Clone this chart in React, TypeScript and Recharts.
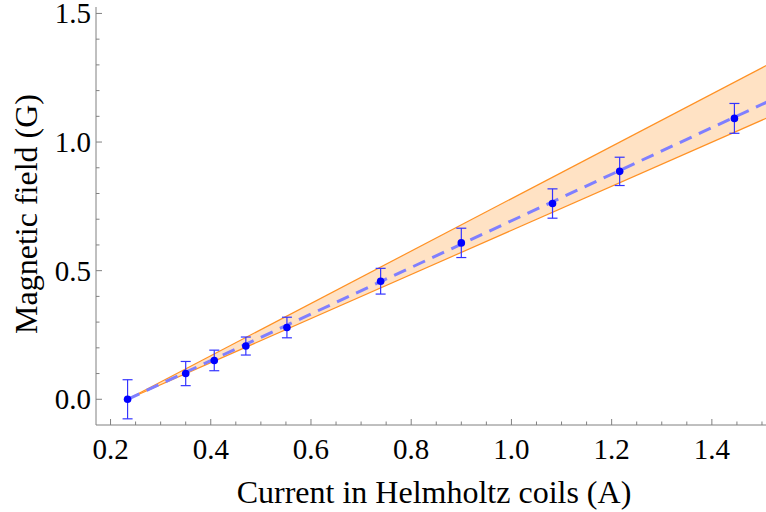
import React from "react";
import { ComposedChart, Area, Line, Scatter, ErrorBar, XAxis, YAxis } from "recharts";

// measured points: current (A), field (G), error (G)
const currents = [0.234, 0.35, 0.407, 0.47, 0.552, 0.739, 0.9, 1.082, 1.216, 1.445];
const fields = [0.0, 0.1, 0.151, 0.207, 0.279, 0.459, 0.608, 0.761, 0.886, 1.092];
const fieldErr = [0.076, 0.047, 0.04, 0.035, 0.04, 0.05, 0.057, 0.057, 0.055, 0.058];

// fit line and confidence band, read at both ends
const fitX = [0.234, 1.516];
const fitY = [0.0, 1.161];
const bandLow = [0.0, 1.099];
const bandHigh = [0.0, 1.305];

const X_MAJOR = [0.2, 0.4, 0.6, 0.8, 1.0, 1.2, 1.4];
const X_TICKS = [0.2, 0.25, 0.3, 0.35, 0.4, 0.45, 0.5, 0.55, 0.6, 0.65, 0.7, 0.75, 0.8, 0.85, 0.9, 0.95, 1.0, 1.05, 1.1, 1.15, 1.2, 1.25, 1.3, 1.35, 1.4, 1.45, 1.5];
const Y_MAJOR = [0.0, 0.5, 1.0, 1.5];
const Y_TICKS = [0.0, 0.1, 0.2, 0.3, 0.4, 0.5, 0.6, 0.7, 0.8, 0.9, 1.0, 1.1, 1.2, 1.3, 1.4, 1.5];

const X_DOMAIN = [0.171, 1.516];
const Y_DOMAIN = [-0.1, 1.525];

const FONT = "'Liberation Serif', 'Times New Roman', serif";
const FRAME = "#808080";

const points = currents.map((x, i) => ({ x, y: fields[i], err: fieldErr[i] }));
const fit = fitX.map((x, i) => ({ x, y: fitY[i] }));
const band = fitX.map((x, i) => ({ x, range: [bandLow[i], bandHigh[i]], lo: bandLow[i], hi: bandHigh[i] }));

const isMajor = (list: number[], v: number) => list.some((m) => Math.abs(m - v) < 1e-6);

function XTick(props: any) {
  const { x, y, payload, top } = props;
  const major = isMajor(X_MAJOR, payload.value);
  const len = major ? 6 : 3.5;
  const col = top ? "#333" : FRAME;
  return (
    <g>
      <line x1={x} x2={x} y1={y} y2={top ? y + len : y - len} stroke={col} strokeWidth={1} />
      {!top && major && (
        <text x={x} y={y + 34} textAnchor="middle" fontFamily={FONT} fontSize={29} fill="#000">
          {payload.value.toFixed(1)}
        </text>
      )}
    </g>
  );
}

function YTick(props: any) {
  const { x, y, payload } = props;
  const major = isMajor(Y_MAJOR, payload.value);
  const len = major ? 6 : 3.5;
  return (
    <g>
      <line x1={x} x2={x + len} y1={y} y2={y} stroke={FRAME} strokeWidth={1} />
      {major && (
        <text x={x - 5} y={y} dy="0.34em" textAnchor="end" fontFamily={FONT} fontSize={29} fill="#000">
          {payload.value.toFixed(1)}
        </text>
      )}
    </g>
  );
}

const Dot = (props: any) => <circle cx={props.cx} cy={props.cy} r={3.8} fill="#0000ff" />;

export default function App() {
  return (
    <div style={{ position: "fixed", left: 0, top: 0, width: 766, height: 512, overflow: "hidden", background: "#fff" }}>
      <ComposedChart width={770} height={512} margin={{ top: 7, right: 0, bottom: 0, left: 0 }}>
        <XAxis
          xAxisId="top"
          orientation="top"
          type="number"
          dataKey="x"
          domain={X_DOMAIN}
          allowDataOverflow
          ticks={X_TICKS}
          height={0}
          tickSize={0}
          tickMargin={0}
          tickLine={false}
          axisLine={{ stroke: "#222" }}
          tick={<XTick top />}
          interval={0}
        />
        <XAxis
          type="number"
          dataKey="x"
          domain={X_DOMAIN}
          allowDataOverflow
          ticks={X_TICKS}
          height={87}
          tickSize={0}
          tickMargin={0}
          tickLine={false}
          axisLine={{ stroke: FRAME }}
          tick={<XTick />}
          interval={0}
          label={{
            content: () => (
              <text x={434} y={503} textAnchor="middle" fontFamily={FONT} fontSize={32} fill="#000">
                Current in Helmholtz coils (A)
              </text>
            ),
          }}
        />
        <YAxis
          type="number"
          domain={Y_DOMAIN}
          allowDataOverflow
          ticks={Y_TICKS}
          width={96}
          tickSize={0}
          tickMargin={0}
          tickLine={false}
          axisLine={{ stroke: FRAME }}
          tick={<YTick />}
          interval={0}
          label={{
            content: () => (
              <text
                x={37}
                y={214}
                transform="rotate(-90 37 214)"
                textAnchor="middle"
                fontFamily={FONT}
                fontSize={32}
                fill="#000"
              >
                Magnetic field (G)
              </text>
            ),
          }}
        />
        <Area data={band} dataKey="range" stroke="none" fill="#ffe2c4" fillOpacity={1} isAnimationActive={false} />
        <Line data={band} dataKey="hi" stroke="#ff9124" strokeWidth={1.2} dot={false} isAnimationActive={false} />
        <Line data={band} dataKey="lo" stroke="#ff9124" strokeWidth={1.2} dot={false} isAnimationActive={false} />
        <Line
          data={fit}
          dataKey="y"
          stroke="#7f7fff"
          strokeWidth={3}
          strokeDasharray="13 8"
          dot={false}
          isAnimationActive={false}
        />
        <Scatter data={points} dataKey="y" shape={<Dot />} isAnimationActive={false}>
          <ErrorBar dataKey="err" direction="y" width={5} stroke="#3434ff" strokeWidth={1.2} isAnimationActive={false} />
        </Scatter>
      </ComposedChart>
    </div>
  );
}
